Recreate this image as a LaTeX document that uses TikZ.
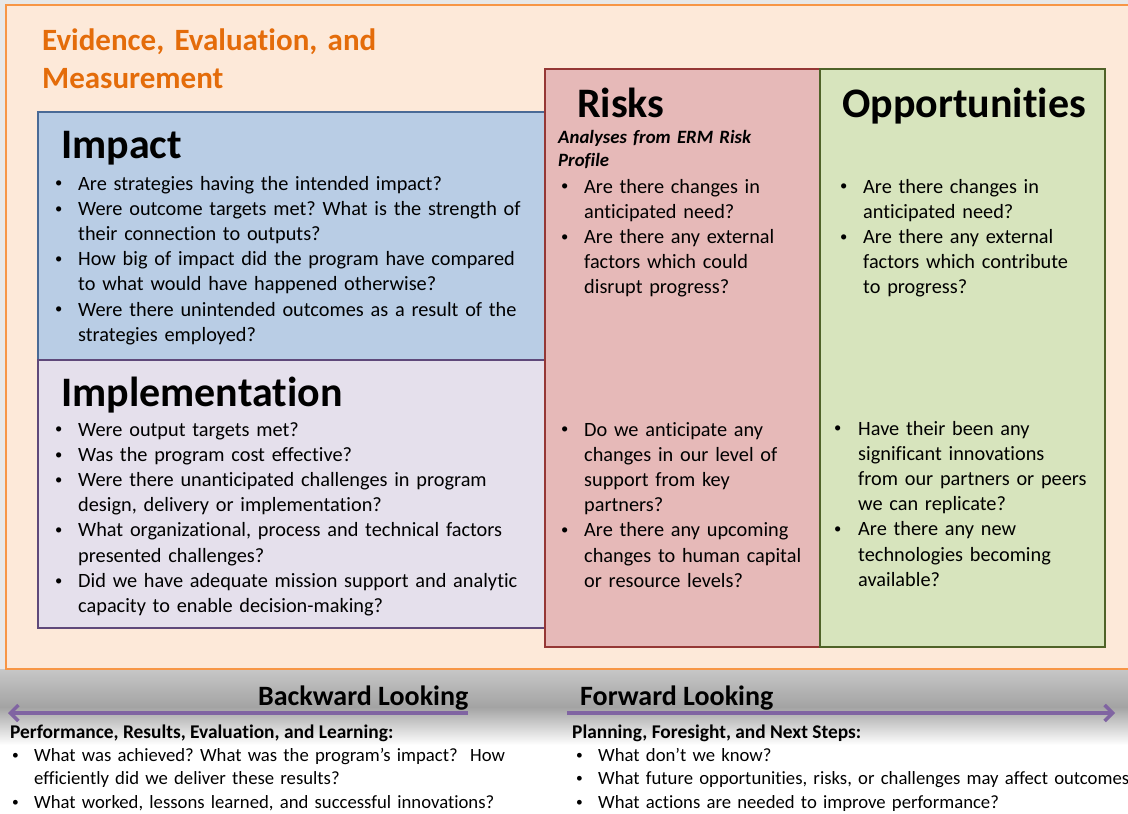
\documentclass[tikz,border=0pt]{standalone}
\usepackage{fontspec}
\usepackage{graphicx}
\setmainfont{Carlito}[Ligatures=NoCommon]
\usetikzlibrary{arrows.meta}
\definecolor{orgline}{HTML}{F79646}
\definecolor{orgfill}{HTML}{FDE9D9}
\definecolor{orgtext}{HTML}{E46C0A}
\definecolor{impfill}{HTML}{B9CDE5}
\definecolor{impline}{HTML}{4A6A96}
\definecolor{implfill}{HTML}{E5E0EC}
\definecolor{implline}{HTML}{5F497A}
\definecolor{riskfill}{HTML}{E6B9B8}
\definecolor{riskline}{HTML}{953735}
\definecolor{oppfill}{HTML}{D7E4BD}
\definecolor{oppline}{HTML}{4F6228}
\definecolor{arrcol}{HTML}{8064A2}
\frenchspacing
\newcommand{\smbullet}{\raisebox{0.1em}{\scalebox{0.72}{\textbullet}}}
\newcommand{\bitem}[2][23pt]{\hangindent=#1\hangafter=1\noindent\makebox[#1][l]{\smbullet}#2\par}
\tikzset{
  panel/.style={line width=2.8pt},
  heading/.style={anchor=base west, inner sep=0pt, font=\fontsize{42}{50}\selectfont\bfseries},
  blist/.style={anchor=base west, inner sep=0pt, text width=#1, align=left, font=\fontsize{20.3}{25.2}\selectfont\frenchspacing},
  slist/.style={anchor=base west, inner sep=0pt, text width=#1, align=left, font=\fontsize{18.7}{23.5}\selectfont\frenchspacing},
  looklabel/.style={anchor=base west, inner sep=0pt, font=\fontsize{28}{32}\selectfont\bfseries},
  subhead/.style={anchor=base west, inner sep=0pt, font=\fontsize{19.4}{23}\selectfont\bfseries},
  arr/.style={arrcol, line width=3.5pt, -{Straight Barb[length=8pt,width=16pt]}},
}
\begin{document}
\begin{tikzpicture}[x=1pt,y=-1pt]
\useasboundingbox (0,0) rectangle (1128,814);
% background
\fill[white] (0,0) rectangle (1128,814);
\fill[black!9] (0,0) rectangle (1128,6);
\fill[black!9] (0,0) rectangle (6,669);
\shade[top color=black!22, bottom color=white, middle color=black!36] (0,669) rectangle (1128,745);
% outer box
\draw[orgline, fill=orgfill, line width=2.6pt] (6,5) rectangle (1140,669);
\node[anchor=base west, inner sep=0pt, text width=400pt, align=left, text=orgtext, font=\fontsize{31}{38}\selectfont\bfseries] (title) at (42,50) {Evidence, Evaluation, and\\Measurement};
% impact / implementation
\draw[panel, impline, fill=impfill] (38,112) rectangle (548,360);
\draw[panel, implline, fill=implfill] (38,360) rectangle (548,628);
% risks / opportunities
\draw[panel, riskline, fill=riskfill] (545,69) rectangle (820,647);
\draw[panel, oppline, fill=oppfill] (820,69) rectangle (1105,647);
\node[heading] (imph) at (61,158) {Impact};
\node[blist=480pt] (impb) at (55,190) {%
\bitem{Are strategies having the intended impact?}%
\bitem{Were outcome targets met? What is the strength of\newline their connection to outputs?}%
\bitem{How big of impact did the program have compared\newline to what would have happened otherwise?}%
\bitem{Were there unintended outcomes as a result of the\newline strategies employed?}};
\node[heading] (implh) at (61,406) {Implementation};
\node[blist=480pt] (implb) at (55,436) {%
\bitem{Were output targets met?}%
\bitem{Was the program cost effective?}%
\bitem{Were there unanticipated challenges in program\newline design, delivery or implementation?}%
\bitem{What organizational, process and technical factors\newline presented challenges?}%
\bitem{Did we have adequate mission support and analytic\newline capacity to enable decision-making?}};
\node[heading] (riskh) at (577,117) {Risks};
\node[anchor=base west, inner sep=0pt, text width=250pt, align=left, font=\fontsize{18.8}{23}\selectfont\bfseries\itshape] (risksub) at (558,143) {Analyses from ERM Risk\\Profile};
\node[blist=250pt] (riskb1) at (561,193) {%
\bitem{Are there changes in\newline anticipated need?}%
\bitem{Are there any external\newline factors which could\newline disrupt progress?}};
\node[blist=250pt] (riskb2) at (561,436) {%
\bitem{Do we anticipate any\newline changes in our level of\newline support from key\newline partners?}%
\bitem{Are there any upcoming\newline changes to human capital\newline or resource levels?}};
\node[heading] (opph) at (842,117) {Opportunities};
\node[blist=250pt] (oppb1) at (840,193) {%
\bitem{Are there changes in\newline anticipated need?}%
\bitem{Are there any external\newline factors which contribute\newline to progress?}};
\node[blist=260pt] (oppb2) at (834,435) {%
\bitem[24pt]{Have their been any\newline significant innovations\newline from our partners or peers\newline we can replicate?}%
\bitem[24pt]{Are there any new\newline technologies becoming\newline available?}};
% bottom
\node[looklabel] (back) at (258,705) {Backward Looking};
\node[looklabel] (fwd) at (580,705) {Forward Looking};
\coordinate (bstart) at (468,713);
\coordinate (bend) at (8,713);
\coordinate (fstart) at (567,713);
\coordinate (fend) at (1115,713);
\draw[arr] (bstart) -- (bend);
\draw[arr] (fstart) -- (fend);
\node[subhead] (perf) at (10,738) {Performance, Results, Evaluation, and Learning:};
\node[slist=560pt] (perfb) at (12,761) {%
\bitem[22pt]{What was achieved? What was the program’s impact?\ \ How\newline efficiently did we deliver these results?}%
\bitem[22pt]{What worked, lessons learned, and successful innovations?}};
\node[subhead] (plan) at (572,738) {Planning, Foresight, and Next Steps:};
\node[slist=600pt] (planb) at (576,761) {%
\bitem[22pt]{What don’t we know?}%
\bitem[22pt]{What future opportunities, risks, or challenges may affect outcomes?}%
\bitem[22pt]{What actions are needed to improve performance?}};
\end{tikzpicture}
\end{document}
